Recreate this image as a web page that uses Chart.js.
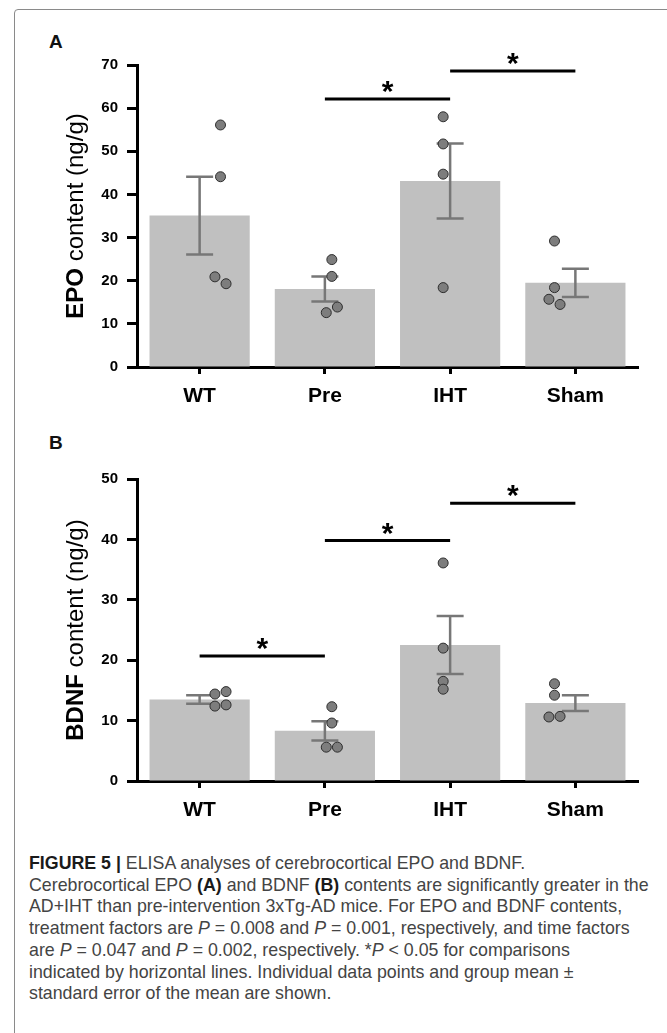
<!DOCTYPE html>
<html>
<head>
<meta charset="utf-8">
<script src="https://cdn.jsdelivr.net/npm/chart.js@4.4.0/dist/chart.umd.min.js"></script>
<style>
  body { margin: 0; background: #fff; width: 667px; height: 1033px; overflow: hidden; position: relative; font-family: 'Liberation Sans', Arial, sans-serif; }
  .frame { position: absolute; left: 14px; top: 9px; width: 700px; height: 1100px; border: 1px solid #8a8a8a; border-radius: 4px; }
  .panel { position: absolute; left: 49px; font-weight: bold; font-size: 19px; line-height: 22px; color: #111; }
  canvas { position: absolute; left: 0; }
  #caption { position: absolute; left: 29px; top: 853px; font-size: 17.8px; line-height: 21.7px; color: #444; white-space: nowrap; }
  #caption b { color: #1a1a1a; }
</style>
</head>
<body>
<div class="frame"></div>
<div class="panel" style="top:31px">A</div>
<div class="panel" style="top:432px">B</div>
<canvas id="epo_chart" width="667" height="430" style="top:0"></canvas>
<canvas id="bdnf_chart" width="667" height="420" style="top:430px"></canvas>
<div id="caption">
  <div><b>FIGURE 5 |</b> ELISA analyses of cerebrocortical EPO and BDNF.</div>
  <div>Cerebrocortical EPO <b>(A)</b> and BDNF <b>(B)</b> contents are significantly greater in the</div>
  <div>AD+IHT than pre-intervention 3xTg-AD mice. For EPO and BDNF contents,</div>
  <div>treatment factors are <i>P</i> = 0.008 and <i>P</i> = 0.001, respectively, and time factors</div>
  <div>are <i>P</i> = 0.047 and <i>P</i> = 0.002, respectively. *<i>P</i> &lt; 0.05 for comparisons</div>
  <div>indicated by horizontal lines. Individual data points and group mean ±</div>
  <div>standard error of the mean are shown.</div>
</div>
<script>
const groups = ['WT', 'Pre', 'IHT', 'Sham'];

// panel A - EPO content (ng/g)
const epoMean = [35.1, 18.1, 43.1, 19.5];
const epoSem = [9.0, 2.9, 8.7, 3.3];
const epoPoints = [
    [56.1, 44.1, 20.9, 19.3],
    [24.9, 21.0, 12.6, 13.9],
    [58.0, 51.7, 44.7, 18.4],
    [29.2, 18.4, 15.7, 14.5]
];
const epoSig = [['Pre', 'IHT', 62.1], ['IHT', 'Sham', 68.6]];

// panel B - BDNF content (ng/g)
const bdnfMean = [13.5, 8.3, 22.5, 12.9];
const bdnfSem = [0.7, 1.6, 4.8, 1.3];
const bdnfPoints = [
    [14.4, 14.8, 12.4, 12.6],
    [12.3, 9.6, 5.6, 5.6],
    [36.1, 22.0, 16.5, 15.2],
    [16.1, 14.2, 10.6, 10.7]
];
const bdnfSig = [['WT', 'Pre', 20.7], ['Pre', 'IHT', 39.8], ['IHT', 'Sham', 46.0]];

const FONT = "'Liberation Sans', Arial, sans-serif";
Chart.defaults.font.family = FONT;

// points that would sit on top of each other get pushed left / right
function jitterSides(vals, range) {
    const near = range * 0.025;
    const side = vals.map(() => 0);
    const used = vals.map(() => false);
    for (let i = 0; i < vals.length; i++) {
        if (used[i]) continue;
        for (let j = i + 1; j < vals.length; j++) {
            if (!used[j] && Math.abs(vals[i] - vals[j]) < near) {
                side[i] = -1; side[j] = 1;
                used[i] = used[j] = true;
                break;
            }
        }
    }
    return side;
}

function buildChart(canvasId, cfg) {
    const canvas = document.getElementById(canvasId);
    const H = canvas.height;

    const pts = [];
    cfg.points.forEach((vals, i) => {
        const side = jitterSides(vals, cfg.yMax);
        vals.forEach((v, k) => pts.push({ x: i + side[k] * 0.05, y: v }));
    });

    const decor = {
        id: 'decor_' + canvasId,
        afterDatasetDraw(chart, args) {
            if (args.index !== 0) return;
            // mean +/- SEM whiskers, drawn over the bars but under the points
            const ctx = chart.ctx, x = chart.scales.x, y = chart.scales.y;
            ctx.save();
            ctx.strokeStyle = '#777';
            ctx.lineWidth = 2.5;
            cfg.mean.forEach((m, i) => {
                const cx = x.getPixelForValue(i);
                const hi = y.getPixelForValue(m + cfg.sem[i]);
                const lo = y.getPixelForValue(m - cfg.sem[i]);
                ctx.beginPath();
                ctx.moveTo(cx, hi); ctx.lineTo(cx, lo);
                ctx.moveTo(cx - 13.5, hi); ctx.lineTo(cx + 13.5, hi);
                ctx.moveTo(cx - 13.5, lo); ctx.lineTo(cx + 13.5, lo);
                ctx.stroke();
            });
            ctx.restore();
        },
        afterDraw(chart) {
            const ctx = chart.ctx, x = chart.scales.x, y = chart.scales.y;
            const area = chart.chartArea;
            ctx.save();
            // significance bars with asterisks
            ctx.strokeStyle = '#000';
            ctx.fillStyle = '#000';
            ctx.lineWidth = 3;
            ctx.font = 'bold 30px ' + FONT;
            ctx.textAlign = 'center';
            ctx.textBaseline = 'alphabetic';
            cfg.sig.forEach(s => {
                const x1 = x.getPixelForValue(groups.indexOf(s[0]));
                const x2 = x.getPixelForValue(groups.indexOf(s[1]));
                const ly = y.getPixelForValue(s[2]);
                ctx.beginPath();
                ctx.moveTo(x1, ly); ctx.lineTo(x2, ly);
                ctx.stroke();
                const m = ctx.measureText('*');
                const base = ly - 12 - (m.actualBoundingBoxDescent - m.actualBoundingBoxAscent) / 2;
                ctx.fillText('*', (x1 + x2) / 2, base);
            });
            // y axis title, first word bold
            ctx.translate(83, (area.top + area.bottom) / 2);
            ctx.rotate(-Math.PI / 2);
            ctx.textAlign = 'left';
            ctx.font = 'bold 24px ' + FONT;
            const w1 = ctx.measureText(cfg.titleBold).width;
            ctx.font = '24px ' + FONT;
            const w2 = ctx.measureText(cfg.titleRest).width;
            const sx = -(w1 + w2) / 2;
            ctx.font = 'bold 24px ' + FONT;
            ctx.fillText(cfg.titleBold, sx, 0);
            ctx.font = '24px ' + FONT;
            ctx.fillText(cfg.titleRest, sx + w1, 0);
            ctx.restore();
        }
    };

    return new Chart(canvas, {
        type: 'bar',
        data: {
            labels: groups,
            datasets: [
                {
                    type: 'bar',
                    data: cfg.mean,
                    backgroundColor: '#c0c0c0',
                    barPercentage: 0.8,
                    categoryPercentage: 1,
                    grouped: false,
                    xAxisID: 'x',
                    yAxisID: 'y',
                    order: 2
                },
                {
                    type: 'scatter',
                    data: pts,
                    xAxisID: 'xp',
                    yAxisID: 'y',
                    pointRadius: 5,
                    pointBackgroundColor: '#7d7d7d',
                    pointBorderColor: '#2e2e2e',
                    pointBorderWidth: 1,
                    showLine: false,
                    order: 1
                }
            ]
        },
        options: {
            responsive: false,
            animation: false,
            layout: { padding: { top: cfg.top, right: 29, left: 0, bottom: 0 } },
            plugins: { legend: { display: false }, tooltip: { enabled: false } },
            scales: {
                x: {
                    type: 'category',
                    position: 'bottom',
                    offset: true,
                    grid: { offset: false, drawOnChartArea: false, drawTicks: true, tickLength: 7, tickWidth: 3, tickColor: '#000' },
                    border: { display: true, color: '#000', width: 3 },
                    ticks: { color: '#000', font: { size: 21, weight: 'bold' }, padding: 10 },
                    afterFit: s => { s.height = H - cfg.bottom; }
                },
                xp: { type: 'linear', display: false, min: -0.5, max: 3.5 },
                y: {
                    min: 0,
                    max: cfg.yMax,
                    ticks: { stepSize: 10, color: '#000', font: { size: 15, weight: 'bold' }, padding: 9 },
                    grid: { drawOnChartArea: false, tickLength: 10, tickWidth: 3, tickColor: '#000' },
                    border: { display: true, color: '#000', width: 3 },
                    afterFit: s => { s.width = 137; }
                }
            }
        },
        plugins: [decor]
    });
}

buildChart('epo_chart', {
    mean: epoMean, sem: epoSem, points: epoPoints, sig: epoSig,
    yMax: 70, top: 65, bottom: 367,
    titleBold: 'EPO', titleRest: ' content (ng/g)'
});

buildChart('bdnf_chart', {
    mean: bdnfMean, sem: bdnfSem, points: bdnfPoints, sig: bdnfSig,
    yMax: 50, top: 49, bottom: 351,
    titleBold: 'BDNF', titleRest: ' content (ng/g)'
});
</script>
</body>
</html>
